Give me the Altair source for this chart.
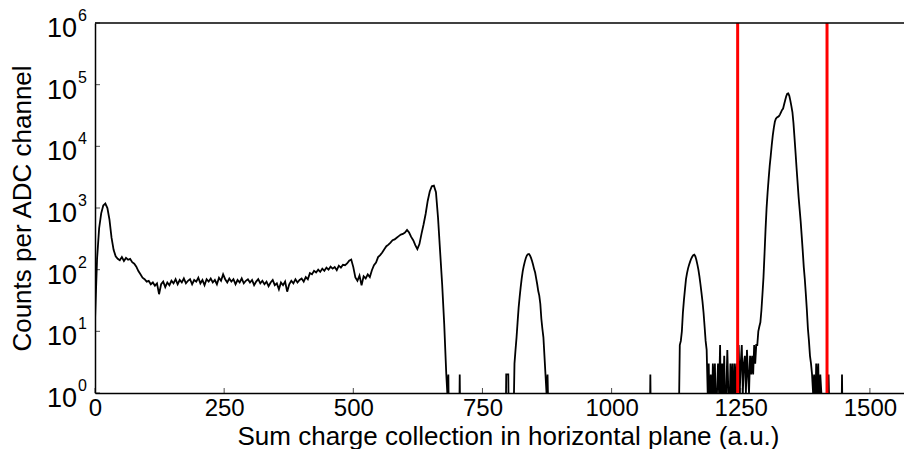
import altair as alt
import pandas as pd

# ---------------- data ----------------
# low-energy part of the spectrum, channels 0..684, every 4 channels
main_x0 = 0
main_step = 4
main_counts = [
    15, 150, 470, 820, 1100, 1180, 1000, 650, 330, 210,
    165, 150, 142, 160, 138, 155, 145, 150, 132, 125,
    112, 95, 84, 74, 70, 64, 66, 58, 62, 55,
    60, 40, 58, 64, 52, 62, 56, 66, 60, 70,
    58, 68, 62, 72, 60, 66, 70, 58, 68, 64,
    74, 60, 68, 56, 70, 64, 72, 62, 68, 58,
    74, 66, 84, 70, 62, 72, 64, 70, 58, 68,
    62, 72, 60, 66, 70, 62, 68, 56, 64, 70,
    60, 66, 58, 64, 54, 62, 68, 56, 60, 48,
    62, 56, 64, 44, 58, 66, 60, 70, 62, 68,
    72, 64, 76, 70, 88, 84, 96, 90, 100, 92,
    104, 96, 108, 100, 112, 104, 110, 98, 116, 108,
    120, 118, 126, 140, 146, 110, 75, 66, 80, 56,
    78, 72, 84, 76, 98, 118, 130, 160, 172, 190,
    215, 240, 255, 275, 300, 310, 330, 350, 370, 380,
    400, 440, 400, 340, 300, 250, 215, 260, 380, 540,
    800, 1300, 1850, 2250, 2300, 1800, 700, 200, 58, 13,
    2, 2,
]

# peak near 840, every 2 channels
peak2_x0 = 810
peak2_step = 2
peak2_counts = [
    0, 3, 5, 8, 14, 24, 36, 52, 72, 95,
    115, 135, 155, 170, 178, 180, 170, 155, 138, 120,
    102, 90, 72, 58, 45, 38, 28, 16, 11, 8,
    4, 2, 1, 2, 0,
]

# peak near 1160, every 2 channels
peak3_x0 = 1130
peak3_step = 2
peak3_counts = [
    0, 6, 7, 10, 20, 32, 48, 70, 88, 105,
    120, 135, 150, 162, 172, 175, 165, 145, 122, 100,
    78, 58, 42, 30, 20, 12, 7, 5,
]

# sparse counts between the two high-energy peaks, every 2 channels
dense_x0 = 1186
dense_step = 2
dense_counts = [
    1, 3, 0, 2, 0, 3, 1, 3, 0, 1,
    3, 1, 6, 0, 3, 1, 4, 0, 1, 5,
    1, 0, 3, 1, 3, 0, 3, 1, 3, 0,
    6, 1, 3, 6, 1, 3, 4, 1, 5, 2,
    1, 4, 2, 4, 2, 6, 3, 6,
]

# main peak near 1342, every 2 channels
peak4_x0 = 1282
peak4_step = 2
peak4_counts = [
    6, 10, 12, 14, 22, 40, 75, 180, 450, 1000,
    1800, 3000, 4800, 7000, 10500, 15000, 20000, 25000, 28000, 29500,
    30000, 31000, 33000, 36000, 39000, 41000, 48000, 56000, 65000, 71000,
    72000, 66000, 55000, 45000, 36000, 24000, 14000, 8000, 4500, 2600,
    1500, 950, 600, 350, 200, 110, 70, 40, 22, 11,
    7, 4, 3,
]

# tail after the main peak, every 2 channels
tail_x0 = 1388
tail_step = 2
tail_counts = [2, 1, 2, 0, 3, 1, 3, 0, 2, 1, 0, 0, 0, 0, 0, 0, 2, 0]

# isolated single-channel counts
spike_x = [682, 706, 796, 800, 1075, 1446]
spike_counts = [1, 2, 2, 2, 2, 2]

# red cut lines
cut_x = [1244, 1417]

x_ticks = [0, 250, 500, 750, 1000, 1250, 1500]
y_exponents = [0, 1, 2, 3, 4, 5, 6]

# ---------------- build the table ----------------
XMAX = 1566
pts = {}
for x0, st, cs in [
    (main_x0, main_step, main_counts),
    (peak2_x0, peak2_step, peak2_counts),
    (peak3_x0, peak3_step, peak3_counts),
    (dense_x0, dense_step, dense_counts),
    (peak4_x0, peak4_step, peak4_counts),
    (tail_x0, tail_step, tail_counts),
]:
    for i, c in enumerate(cs):
        pts[x0 + i * st] = c
for x, c in zip(spike_x, spike_counts):
    pts[x] = c

xs = sorted(pts)
rows = []
for i, x in enumerate(xs):
    rows.append((x, pts[x]))
    if i + 1 < len(xs) and xs[i + 1] - x > 4:
        # empty channels in between
        rows.append((x + 1, 0))
        rows.append((xs[i + 1] - 1, 0))
rows.append((xs[-1] + 1, 0))
rows.append((XMAX, 0))
df = pd.DataFrame(rows, columns=["x", "c"]).sort_values("x")

FONT = "Liberation Sans"
W, H = 809, 370
x_scale = alt.Scale(domain=[0, XMAX], nice=False, zero=False)
y_scale = alt.Scale(type="log", domain=[1, 1e6], nice=False)

line = (
    alt.Chart(df)
    .transform_calculate(pc="datum.c > 0 ? datum.c : 0.3")
    .mark_line(color="black", strokeWidth=1.8, clip=True)
    .encode(
        x=alt.X(
            "x:Q",
            scale=x_scale,
            axis=alt.Axis(
                values=x_ticks,
                format="d",
                grid=False,
                tickSize=0,
                domainColor="black",
                domainWidth=1.5,
                labelFont=FONT,
                labelFontSize=24,
                labelColor="black",
                labelPadding=3,
                labelFlush=False,
                labelOverlap=False,
                title="Sum charge collection in horizontal plane (a.u.)",
                titleFont=FONT,
                titleFontSize=26,
                titleFontWeight="normal",
                titleColor="black",
                titleX=413,
                titleY=51,
                titleAlign="center",
                titleBaseline="alphabetic",
            ),
        ),
        y=alt.Y(
            "pc:Q",
            scale=y_scale,
            axis=alt.Axis(
                values=[10 ** e for e in y_exponents],
                grid=False,
                tickSize=0,
                labels=False,
                domainColor="black",
                domainWidth=1.5,
                title="Counts per ADC channel",
                titleFont=FONT,
                titleFontSize=26,
                titleFontWeight="normal",
                titleColor="black",
                titleAngle=270,
                titleX=-73,
                titleY=H / 2,
                titleAlign="center",
                titleBaseline="middle",
            ),
        ),
    )
)

cuts = (
    alt.Chart(pd.DataFrame({"xc": cut_x}))
    .mark_rule(color="#ff0000", strokeWidth=3)
    .encode(x=alt.X("xc:Q", scale=x_scale))
)

# top frame line at the top of the log range
top_frame = (
    alt.Chart(pd.DataFrame({"top": [10 ** y_exponents[-1]]}))
    .mark_rule(color="black", strokeWidth=1.5)
    .encode(y=alt.Y("top:Q", scale=y_scale))
)

ydf = pd.DataFrame({"e": y_exponents, "v": [10 ** e for e in y_exponents],
                    "base": ["10"] * len(y_exponents),
                    "sup": [str(e) for e in y_exponents]})

yticks = (
    alt.Chart(ydf)
    .mark_tick(orient="horizontal", color="black", size=5, thickness=1)
    .encode(y=alt.Y("v:Q", scale=y_scale), x=alt.value(2.5))
)
ybase = (
    alt.Chart(ydf)
    .mark_text(font=FONT, fontSize=27, align="right", baseline="middle", dy=6, color="black")
    .encode(y=alt.Y("v:Q", scale=y_scale), x=alt.value(-18), text="base:N")
)
ysup = (
    alt.Chart(ydf)
    .mark_text(font=FONT, fontSize=16, align="left", baseline="middle", dy=-7, color="black")
    .encode(y=alt.Y("v:Q", scale=y_scale), x=alt.value(-17), text="sup:N")
)

xdf = pd.DataFrame({"t": x_ticks})
xticks = (
    alt.Chart(xdf)
    .mark_tick(orient="vertical", color="black", size=5, thickness=1)
    .encode(x=alt.X("t:Q", scale=x_scale), y=alt.value(H - 2.5))
)

chart = (
    alt.layer(line, cuts, top_frame, yticks, xticks, ybase, ysup)
    .properties(
        width=W,
        height=H,
        autosize="none",
        padding={"left": 87, "top": 15, "right": 0, "bottom": 56},
        background="white",
    )
    .configure_view(stroke=None)
)

chart.save("out.html", embed_options={"renderer": "svg", "actions": False})
